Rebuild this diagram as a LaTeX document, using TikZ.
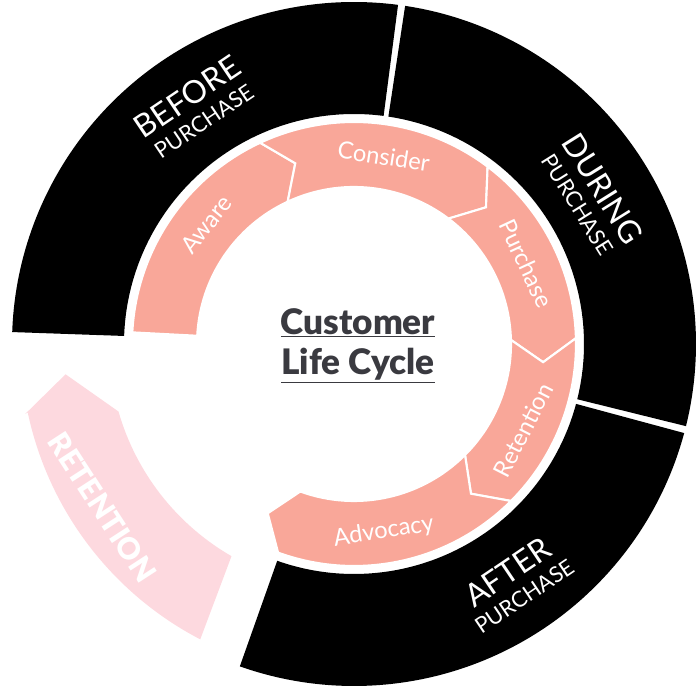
\documentclass[tikz,border=0pt]{standalone}
\usepackage{fontspec}
\setmainfont{Lato}
\newfontfamily\latoblack{Lato Black}
\definecolor{salmon}{HTML}{F9A799}
\definecolor{faded}{HTML}{FDD9DF}
\definecolor{txtdark}{HTML}{3A3A40}
\tikzset{
  blackseg/.style={fill=black},
  pinkseg/.style={fill=salmon,draw=white,line width=1.2pt,line join=miter},
  phase/.style={text=white,align=center,inner sep=0pt,font=\fontsize{12.5}{13}\selectfont},
  stagelbl/.style={text=white,inner sep=0pt,font=\fontsize{13.5}{14}\selectfont},
}
\newcommand{\bandseg}[4]{% t1 t2 r1 r2
  (#1:#4) arc[start angle=#1,end angle=#2,radius=#4] -- (#2:#3) arc[start angle=#2,end angle=#1,radius=#3] -- cycle}
\newcommand{\arrseg}[2]{% tail head
  (#1:222) arc[start angle=#1,end angle=#2,radius=222] -- ({#2-7}:190) -- (#2:157) arc[start angle=#2,end angle=#1,radius=157] -- ({#1-7}:190) -- cycle}
\begin{document}
\begin{tikzpicture}[x=0.02cm,y=0.02cm]
\useasboundingbox (-354,-351) rectangle (346,344);
% outer black ring
\fill[blackseg] \bandseg{178}{82.6}{230}{342};
\fill[blackseg] \bandseg{81.4}{-13.9}{230}{342};
\fill[blackseg] \bandseg{-15.1}{-109.5}{230}{342};
% faded retention
\fill[faded] (192:336) -- (186:290) -- (196:245) arc[start angle=196,end angle=240,radius=245] -- (242.5:333) arc[start angle=242.5,end angle=192,radius=334] -- cycle;
% pink arrows
\filldraw[pinkseg] (177:222) arc[start angle=177,end angle=115,radius=222] -- (108:190) -- (115:157) arc[start angle=115,end angle=177,radius=157] -- cycle;
\filldraw[pinkseg] \arrseg{115}{53};
\filldraw[pinkseg] \arrseg{53}{1.5};
\filldraw[pinkseg] \arrseg{1.5}{-45};
\filldraw[pinkseg] \arrseg{-45}{-110};
% stage labels
\node[stagelbl,rotate=51] (aware) at (141:190) {Aware};
\node[stagelbl,rotate=-9] (consider) at (81:190) {Consider};
\node[stagelbl,rotate=-65] (purchase) at (25:190) {Purchase};
\node[stagelbl,rotate=63] (retention) at (-27:190) {Retention};
\node[stagelbl,rotate=9] (advocacy) at (-81:190) {Advocacy};
% phase labels
\node[phase,rotate=34] (before) at (124:285) {{\fontsize{18}{19}\selectfont BEFORE}\\[2pt]PURCHASE};
\node[phase,rotate=-58] (during) at (32:280) {{\fontsize{18}{19}\selectfont DURING}\\[2pt]PURCHASE};
\node[phase,rotate=34] (after) at (-56:288) {{\fontsize{18}{19}\selectfont AFTER}\\[2pt]PURCHASE};
\node[text=white,inner sep=0pt,rotate=-57,font=\latoblack\fontsize{17}{18}\selectfont] (ret) at (213:300) {RETENTION};
% centre
\node[text=txtdark,align=center,inner sep=0pt,font=\latoblack\fontsize{20}{22}\selectfont] (title) at (4,-2) {\underline{Customer}\\[1pt]\underline{Life Cycle}};
\end{tikzpicture}
\end{document}
